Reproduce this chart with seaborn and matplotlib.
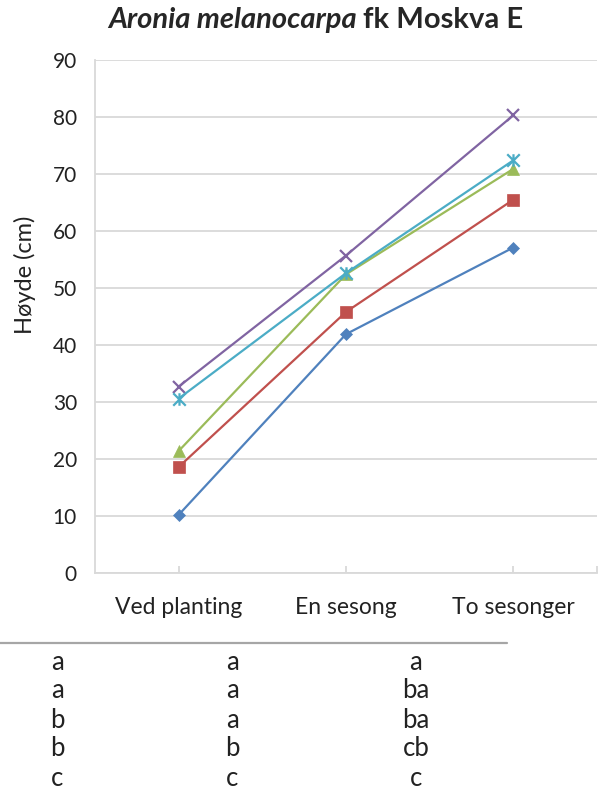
import numpy as np
import pandas as pd
import seaborn as sns
import matplotlib
matplotlib.use("Agg")
import matplotlib.pyplot as plt
from matplotlib.lines import Line2D
from matplotlib.path import Path

# Measurement times and mean plant heights (cm) for the five treatments
stages = ["Ved planting", "En sesong", "To sesonger"]
series_1 = [10.2, 41.9, 57.1]
series_2 = [18.6, 45.8, 65.5]
series_3 = [21.4, 52.4, 70.9]
series_4 = [32.7, 55.7, 80.3]
series_5 = [30.6, 52.6, 72.4]

# Significance letters per stage (rows top to bottom)
letters_planting = ["a", "a", "b", "b", "c"]
letters_one = ["a", "a", "a", "b", "c"]
letters_two = ["a", "ba", "ba", "cb", "c"]

y_ticks = [0, 10, 20, 30, 40, 50, 60, 70, 80, 90]

names = ["S1", "S2", "S3", "S4", "S5"]
values = [series_1, series_2, series_3, series_4, series_5]
df = pd.DataFrame(
    [(n, i, s, v) for n, vals in zip(names, values)
     for i, (s, v) in enumerate(zip(stages, vals))],
    columns=["serie", "pos", "stage", "height"],
)

sns.set_theme(style="white")
plt.rcParams["font.family"] = ["Lato", "DejaVu Sans"]

# Star marker: a cross with a vertical bar through it
star = Path(
    [(-1, -1), (1, 1), (-1, 1), (1, -1), (0, -1), (0, 1)],
    [Path.MOVETO, Path.LINETO, Path.MOVETO, Path.LINETO, Path.MOVETO, Path.LINETO],
)

colors = ["#4F81BD", "#C0504D", "#9BBB59", "#8064A2", "#4BACC6"]
markers = ["D", "s", "^", "x", star]
msizes = [6, 8, 9, 9, 9]
thin_markers = (3, 4)

W, H = 606, 791
fig = plt.figure(figsize=(W / 100, H / 100), dpi=100)
ax = fig.add_axes([95 / W, 1 - 573 / H, (597 - 95) / W, (573 - 60) / H])

for k, (n, c, m, ms) in enumerate(zip(names, colors, markers, msizes)):
    sub = df[df["serie"] == n]
    sns.lineplot(data=sub, x="pos", y="height", ax=ax, color=c, marker=m,
                 markersize=ms, linewidth=1.6, markeredgecolor=c,
                 markerfacecolor=c,
                 markeredgewidth=1.6 if k in thin_markers else 0.5,
                 legend=False)

grid_c = "#d9d9d9"
txt_c = "#222222"
ax.set_xlim(-0.5, 2.5)
ax.set_ylim(0, 90)
ax.set_yticks(y_ticks)
ax.set_xticks(range(len(stages)))
ax.set_xticklabels(stages, fontsize=16.5, color=txt_c)
ax.set_xticks([2.5], minor=True)
ax.tick_params(axis="x", which="both", direction="in", length=5, width=1.3,
               color=grid_c, pad=17, bottom=True)
ax.tick_params(axis="y", length=0, pad=13, labelsize=15, labelcolor=txt_c)
ax.yaxis.grid(True, color=grid_c, linewidth=1.3)
ax.xaxis.grid(False)
for side in ("top", "right"):
    ax.spines[side].set_visible(False)
for side in ("left", "bottom"):
    ax.spines[side].set_color(grid_c)
    ax.spines[side].set_linewidth(1.3)
ax.set_xlabel("")
ax.set_ylabel("Høyde (cm)", fontsize=17, color=txt_c, va="center")
ax.yaxis.set_label_coords((25 - 95) / 502, (573 - 275) / 513)

# Title: italic species name followed by upright cultivar name
fig.canvas.draw()
renderer = fig.canvas.get_renderer()
t1 = fig.text(108 / W, 1 - 20 / H, "Aronia melanocarpa", fontsize=21,
              fontweight="bold", style="italic", va="center", ha="left")
bb = t1.get_window_extent(renderer)
fig.text((bb.x1 + 6) / W, 1 - 20 / H, "fk Moskva E", fontsize=21,
         fontweight="bold", va="center", ha="left")

# Letter table below the chart
fig.add_artist(Line2D([0, 507 / W], [1 - 643 / H, 1 - 643 / H],
                      color="#a6a6a6", linewidth=1.6))
col_x = [57, 232, 416]
row_y = [662, 691, 720, 749, 778]
for cx, col in zip(col_x, [letters_planting, letters_one, letters_two]):
    for ry, txt in zip(row_y, col):
        fig.text(cx / W, 1 - ry / H, txt, fontsize=18.5, ha="center",
                 va="center", color=txt_c)

fig.savefig("out.png", dpi=100)
